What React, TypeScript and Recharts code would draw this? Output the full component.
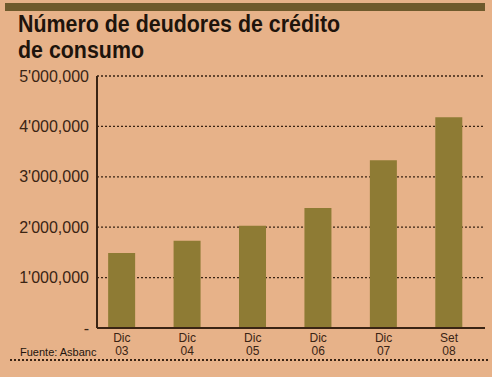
import { BarChart, Bar, XAxis, YAxis, CartesianGrid } from "recharts";

// Número de deudores de crédito de consumo (Fuente: Asbanc)
const periods = ["Dic", "Dic", "Dic", "Dic", "Dic", "Set"];
const years = ["03", "04", "05", "06", "07", "08"];
const debtors = [1490000, 1730000, 2030000, 2380000, 3330000, 4180000];
const yTicks = [0, 1000000, 2000000, 3000000, 4000000, 5000000];

const data = debtors.map((v, i) => ({
  idx: i,
  period: periods[i],
  year: years[i],
  value: v,
}));

const ink = "#3a2414";
const bg = "#e7b289";
const font = "Liberation Sans, Arial, sans-serif";

const fmtY = (v: number) => {
  if (v === 0) return "-";
  const m = Math.floor(v / 1000000);
  const rest = String(v % 1000000).padStart(6, "0");
  return `${m}'${rest.slice(0, 3)},${rest.slice(3)}`;
};

const XTick = (props: any) => {
  const { x, y, payload } = props;
  const d = data[payload.value];
  if (!d) return null;
  return (
    <g transform={`translate(${x},${y})`}>
      <text x={0} y={6} textAnchor="middle" fill={ink} fontSize={12} fontFamily={font}>
        {d.period}
      </text>
      <text x={0} y={19} textAnchor="middle" fill={ink} fontSize={12} fontFamily={font}>
        {d.year}
      </text>
    </g>
  );
};

export default function App() {
  return (
    <div
      style={{
        position: "fixed",
        left: 0,
        top: 0,
        width: 492,
        height: 377,
        background: bg,
        overflow: "hidden",
        fontFamily: font,
      }}
    >
      <div style={{ position: "absolute", left: 5, top: 3, width: 480, height: 8, background: "#6f5a2c" }} />
      <div
        style={{
          position: "absolute",
          left: 18,
          top: 11,
          fontSize: 23,
          fontWeight: "bold",
          lineHeight: "26px",
          color: "#1e140c",
          transform: "scaleX(0.93)",
          transformOrigin: "left top",
          whiteSpace: "nowrap",
        }}
      >
        <div>Número de deudores de crédito</div>
        <div>de consumo</div>
      </div>

      <div style={{ position: "absolute", left: 0, top: 0 }}>
        <BarChart
          width={492}
          height={377}
          data={data}
          margin={{ top: 76, right: 7, bottom: 19, left: 0 }}
        >
          <CartesianGrid
            vertical={false}
            stroke={ink}
            strokeDasharray="2 2"
            strokeWidth={1.3}
          />
          <XAxis
            dataKey="idx"
            type="number"
            domain={[-0.38, 5.55]}
            ticks={[0, 1, 2, 3, 4, 5]}
            height={30}
            tickLine={false}
            axisLine={{ stroke: ink, strokeWidth: 2 }}
            tick={<XTick />}
            interval={0}
          />
          <YAxis
            width={97}
            domain={[0, 5000000]}
            ticks={yTicks}
            tickFormatter={fmtY}
            tickLine={false}
            axisLine={{ stroke: ink, strokeWidth: 2 }}
            tick={{ fill: ink, fontSize: 16, fontFamily: font }}
            interval={0}
          />
          <Bar dataKey="value" fill="#8e7b34" barSize={27} isAnimationActive={false} />
        </BarChart>
      </div>

      <div style={{ position: "absolute", left: 20, top: 346, fontSize: 11, color: "#1e140c" }}>
        Fuente: Asbanc
      </div>
      <div
        style={{
          position: "absolute",
          left: 10,
          top: 359,
          width: 478,
          height: 0,
          borderTop: `2px dotted ${ink}`,
        }}
      />
    </div>
  );
}
